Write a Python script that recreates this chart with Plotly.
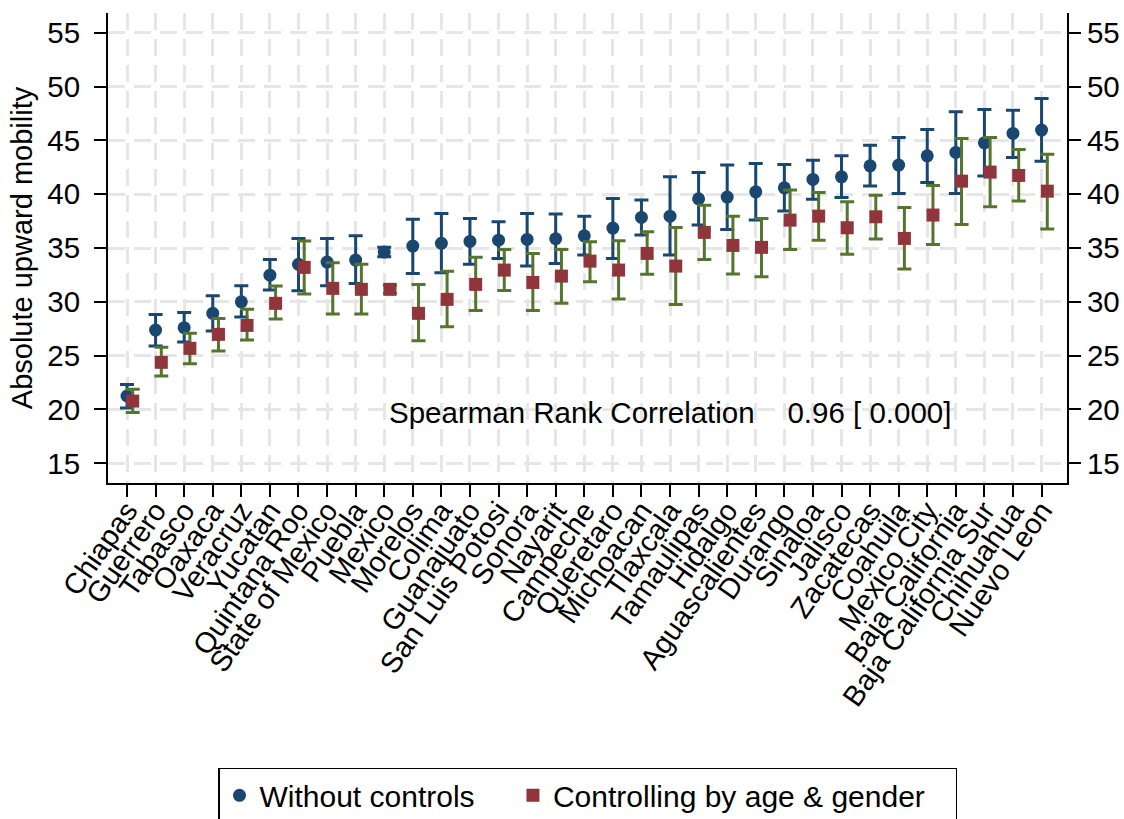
import plotly.graph_objects as go

# States ordered by absolute upward mobility (no controls)
states = [
    "Chiapas", "Guerrero", "Tabasco", "Oaxaca", "Veracruz", "Yucatan",
    "Quintana Roo", "State of Mexico", "Puebla", "Mexico", "Morelos",
    "Colima", "Guanajuato", "San Luis Potosi", "Sonora", "Nayarit",
    "Campeche", "Queretaro", "Michoacan", "Tlaxcala", "Tamaulipas",
    "Hidalgo", "Aguascalientes", "Durango", "Sinaloa", "Jalisco",
    "Zacatecas", "Coahuila", "Mexico City", "Baja California",
    "Baja California Sur", "Chihuahua", "Nuevo Leon",
]

# Without controls: point estimate and 95% CI bounds
raw_mean = [21.25, 27.38, 27.60, 28.93, 30.00, 32.48, 33.48, 33.69, 33.88, 34.62, 35.18,
            35.43, 35.61, 35.73, 35.80, 35.86, 36.13, 36.85, 37.84, 37.96, 39.57,
            39.73, 40.22, 40.59, 41.37, 41.61, 42.63, 42.70, 43.56, 43.88,
            44.77, 45.64, 45.95]
raw_lo = [20.13, 25.89, 26.26, 27.28, 28.58, 31.09, 31.03, 31.49, 31.71, 34.18, 32.64,
          32.70, 33.48, 34.03, 33.32, 33.57, 34.34, 34.03, 36.20, 34.34, 37.13,
          36.73, 37.59, 38.43, 39.54, 39.70, 40.75, 40.07, 41.09, 40.07,
          41.68, 43.41, 43.07]
raw_hi = [22.33, 28.83, 29.00, 30.56, 31.49, 33.94, 35.89, 35.89, 36.13, 35.06, 37.66,
          38.21, 37.75, 37.43, 38.21, 38.15, 37.96, 39.60, 39.45, 41.61, 42.02,
          42.70, 42.86, 42.76, 43.16, 43.56, 44.55, 45.27, 46.01, 47.65,
          47.87, 47.80, 48.89]

# Controlling by age & gender: point estimate and 95% CI bounds
adj_mean = [20.78, 24.38, 25.68, 26.98, 27.81, 29.86, 33.20, 31.25, 31.16, 31.16, 28.93,
            30.23, 31.62, 32.95, 31.80, 32.39, 33.78, 32.95, 34.50, 33.32, 36.45,
            35.24, 35.06, 37.59, 37.96, 36.88, 37.90, 35.89, 38.06, 41.21,
            42.05, 41.74, 40.28]
adj_lo = [19.73, 23.10, 24.25, 25.43, 26.45, 28.40, 30.72, 28.86, 28.86, 30.80, 26.38,
          27.68, 29.20, 31.06, 29.20, 29.86, 31.86, 30.26, 32.55, 29.76, 33.94,
          32.58, 32.33, 34.87, 35.73, 34.43, 35.83, 33.04, 35.33, 37.19,
          38.83, 39.36, 36.76]
adj_hi = [21.87, 25.77, 27.07, 28.46, 29.30, 31.46, 35.64, 33.63, 33.50, 31.55, 31.62,
          32.83, 34.13, 34.87, 34.50, 34.87, 35.58, 35.67, 36.50, 36.91, 38.98,
          37.96, 37.75, 40.38, 40.16, 39.29, 39.91, 38.77, 40.81, 45.18,
          45.27, 44.16, 43.72]

y_ticks = [15, 20, 25, 30, 35, 40, 45, 50, 55]

NAVY = "#1a476f"
MAROON = "#90353b"
FOREST = "#55752f"
GRID = "#e6e6e6"
FONT = "Liberation Sans, Arial, sans-serif"
NB = "\u00a0"

x_raw = list(range(len(states)))
x_adj = [i + 0.2 for i in x_raw]

fig = go.Figure()

fig.add_trace(go.Scatter(
    x=x_raw, y=raw_mean, mode="markers", name="Without controls" + NB * 4,
    marker=dict(symbol="circle", size=13, color=NAVY),
    error_y=dict(type="data", symmetric=False,
                 array=[h - m for h, m in zip(raw_hi, raw_mean)],
                 arrayminus=[m - l for m, l in zip(raw_mean, raw_lo)],
                 color=NAVY, thickness=3, width=7),
))

fig.add_trace(go.Scatter(
    x=x_adj, y=adj_mean, mode="markers", name="Controlling by age & gender" + NB * 3,
    marker=dict(symbol="square", size=13, color=MAROON),
    error_y=dict(type="data", symmetric=False,
                 array=[h - m for h, m in zip(adj_hi, adj_mean)],
                 arrayminus=[m - l for m, l in zip(adj_mean, adj_lo)],
                 color=FOREST, thickness=3, width=7),
))

# mirror axis on the right side
fig.add_trace(go.Scatter(x=[x_raw[0]], y=[raw_mean[0]], yaxis="y2",
                         mode="markers", marker=dict(opacity=0),
                         showlegend=False, hoverinfo="skip"))

yr = [13.17, 56.83]

fig.update_layout(
    width=1124, height=819,
    paper_bgcolor="white", plot_bgcolor="white",
    font=dict(family=FONT, color="black", size=28),
    margin=dict(l=108, r=57, t=13, b=336, autoexpand=False),
    xaxis=dict(
        range=[-0.665, 32.89], tickmode="array", tickvals=x_raw, ticktext=states,
        tickangle=-55, tickfont=dict(size=29), ticks="outside", ticklen=12,
        tickwidth=2, tickcolor="black", showline=True, linecolor="black",
        linewidth=2, showgrid=True, gridcolor=GRID, gridwidth=2.5,
        griddash="17px,9px", zeroline=False, ticklabelstandoff=-15,
    ),
    yaxis=dict(
        range=yr, tickmode="array", tickvals=y_ticks, ticks="outside",
        ticklen=12, tickwidth=2, tickcolor="black", tickfont=dict(size=29.5),
        showline=True, linecolor="black", linewidth=2, showgrid=True,
        gridcolor=GRID, gridwidth=2.5, griddash="17px,9px", zeroline=False,
        ticklabelstandoff=8,
        title=dict(text="Absolute upward mobility", font=dict(size=29), standoff=6),
    ),
    yaxis2=dict(
        range=yr, overlaying="y", side="right", anchor="x", tickmode="array",
        tickvals=y_ticks, ticks="outside", ticklen=12, tickwidth=2,
        tickcolor="black", tickfont=dict(size=29.5), showline=True,
        linecolor="black", linewidth=2, showgrid=False, zeroline=False,
    ),
    legend=dict(
        orientation="h", x=0.5, xanchor="center", y=-0.606, yanchor="top",
        bordercolor="black", borderwidth=1.5, bgcolor="white",
        font=dict(size=30), itemwidth=30,
    ),
    annotations=[dict(
        x=9.1, y=19.7, xref="x", yref="y", xanchor="left", yanchor="middle",
        text="Spearman Rank Correlation" + NB * 4 + "0.96 [ 0.000]",
        showarrow=False, font=dict(size=29.5),
    )],
)

fig.write_html("out.html")
